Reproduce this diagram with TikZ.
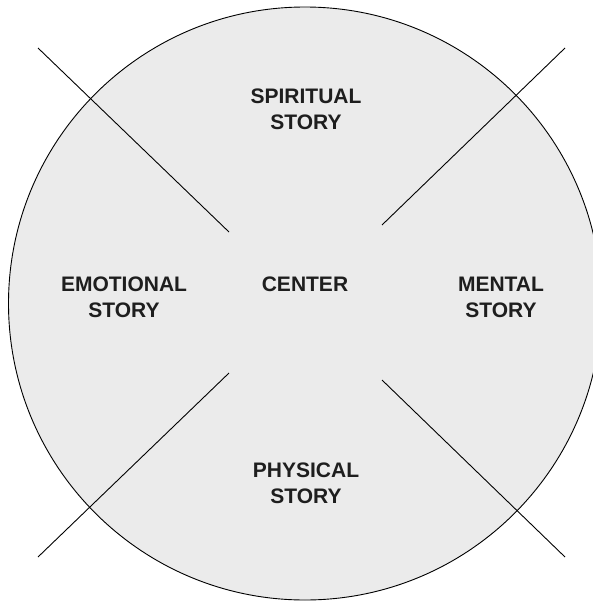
\documentclass[tikz,border=0pt]{standalone}
\usepackage{fontspec}
\setmainfont{Liberation Sans}
\usepackage{tikz}
\usetikzlibrary{positioning}
\definecolor{storygray}{RGB}{235, 235, 235}
\definecolor{inkgray}{RGB}{30, 30, 30}
\tikzset{
  storylabel/.style={align=center, text=inkgray, font=\fontsize{21}{26}\selectfont\bfseries, inner sep=0pt},
  divider/.style={draw=black, line width=0.9pt},
}
\begin{document}
\begin{tikzpicture}[x=1pt, y=-1pt]
  \useasboundingbox (0,0) rectangle (593,602);
  \clip (0,0) rectangle (593,602);
  \fill[storygray, draw=black, line width=0.9pt] (305,303.5) circle (296.5);

  \coordinate (ulout) at (38,48);
  \coordinate (ulin) at (229,232);
  \coordinate (urout) at (565,48);
  \coordinate (urin) at (382,225);
  \coordinate (llin) at (229,373);
  \coordinate (llout) at (38,557);
  \coordinate (lrin) at (382,380);
  \coordinate (lrout) at (565,557);

  \node[storylabel] (center) at (305,284.5) {CENTER};
  \node[storylabel] (spiritual) at (306,109) {SPIRITUAL\\STORY};
  \node[storylabel] (emotional) at (124,297.5) {EMOTIONAL\\STORY};
  \node[storylabel] (mental) at (501,297.5) {MENTAL\\STORY};
  \node[storylabel] (physical) at (306,483) {PHYSICAL\\STORY};

  \draw[divider] (ulout) -- (ulin);
  \draw[divider] (urout) -- (urin);
  \draw[divider] (llin) -- (llout);
  \draw[divider] (lrin) -- (lrout);
\end{tikzpicture}
\end{document}
